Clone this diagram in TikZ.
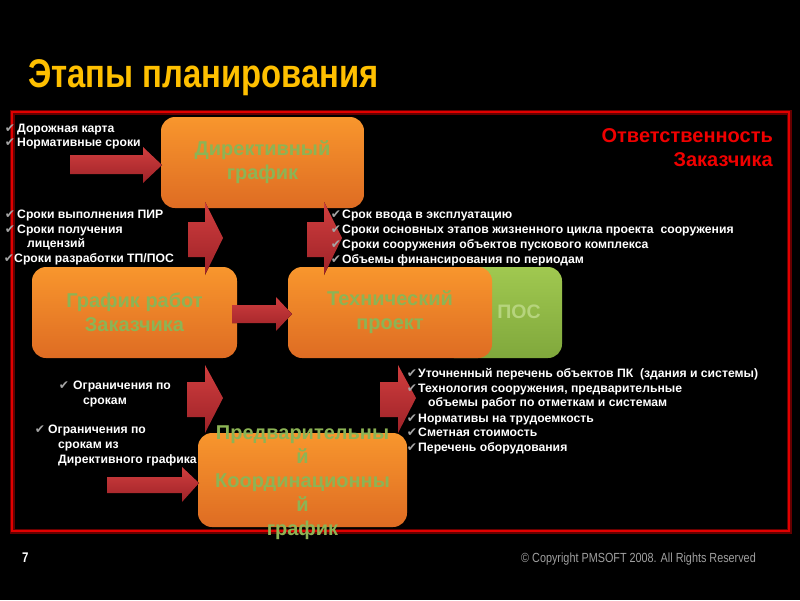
\documentclass[tikz,border=0pt]{standalone}
\usepackage{fontspec}
\setmainfont{Liberation Sans}
\newfontfamily\dejavu{DejaVu Sans}
\newfontfamily\narrowfont[FakeStretch=0.82]{Liberation Sans}
\definecolor{titlegold}{RGB}{255,192,0}
\definecolor{framered}{RGB}{225,0,0}
\definecolor{boxtop}{RGB}{248,150,45}
\definecolor{boxbot}{RGB}{222,108,35}
\definecolor{boxtext}{RGB}{140,180,85}
\definecolor{postop}{RGB}{160,200,80}
\definecolor{posbot}{RGB}{128,168,60}
\definecolor{postext}{RGB}{182,212,125}
\definecolor{arrowtop}{RGB}{208,62,62}
\definecolor{arrowbot}{RGB}{158,34,40}
\definecolor{ckgray}{RGB}{165,165,165}
\definecolor{respred}{RGB}{240,0,0}
\definecolor{copygray}{RGB}{160,160,160}
\newcommand\mychk{{\dejavu\color{ckgray}✔}}
\begin{document}
\begin{tikzpicture}[x=1pt,y=-1pt,
  stagebox/.style={rounded corners=14pt, top color=boxtop, bottom color=boxbot,
    inner sep=0pt, text=boxtext, align=center,
    font=\bfseries\fontsize{20}{24}\selectfont},
  posbox/.style={rounded corners=14pt, top color=postop, bottom color=posbot, inner sep=0pt},
  arrowfill/.style={top color=arrowtop, bottom color=arrowbot},
  listtext/.style={anchor=base west, inner sep=0pt, text=white,
    font=\bfseries\fontsize{12.2}{14}\selectfont},
]
\useasboundingbox (0,0) rectangle (800,600);
\fill[black] (0,0) rectangle (800,600);

% title
\node[anchor=base west, inner sep=0pt, text=titlegold,
  font=\narrowfont\bfseries\fontsize{40}{44}\selectfont] (title) at (28,87) {Этапы планирования};

% frame
\draw[framered!45!black, line width=5pt] (12,112) rectangle (789,531);
\draw[framered, line width=2.2pt] (12,112) rectangle (789,531);

% boxes
\node[posbox, minimum width=122, minimum height=91] (pos) at (501,312.5) {};
\node[anchor=base, inner sep=0pt, text=postext, font=\bfseries\fontsize{19.5}{24}\selectfont] (postxt) at (519,318) {ПОС};
\node[stagebox, minimum width=203, minimum height=91] (dir) at (262.5,162.5) {Директивный\\график};
\node[stagebox, minimum width=205, minimum height=91] (grw) at (134.5,312.5) {График работ\\Заказчика};
\node[stagebox, minimum width=204, minimum height=91] (tech) at (390,312.5) {Технический\\проект};
\node[stagebox, minimum width=209, minimum height=94] (pred) at (302.5,480) {};

% block arrows
\fill[arrowfill] (70,155) -- (143,155) -- (143,147) -- (162,165) -- (143,183) -- (143,174) -- (70,174) -- cycle;
\fill[arrowfill] (188,222) -- (205,222) -- (205,202) -- (223,238) -- (205,275) -- (205,257) -- (188,257) -- cycle;
\fill[arrowfill] (307,222) -- (324,222) -- (324,202) -- (342,238) -- (324,275) -- (324,257) -- (307,257) -- cycle;
\fill[arrowfill] (232,305) -- (276,305) -- (276,297) -- (292,314) -- (276,331) -- (276,323) -- (232,323) -- cycle;
\fill[arrowfill] (187,382) -- (205,382) -- (205,365) -- (223,398) -- (205,433) -- (205,417) -- (187,417) -- cycle;
\fill[arrowfill] (380,382) -- (398,382) -- (398,365) -- (416,398) -- (398,433) -- (398,417) -- (380,417) -- cycle;
\fill[arrowfill] (107,477) -- (182,477) -- (182,467) -- (199,483) -- (182,502) -- (182,493) -- (107,493) -- cycle;

% text of the coordination box (overflows)
\node[inner sep=0pt, text=boxtext, align=center, font=\bfseries\fontsize{20}{24}\selectfont] (predtxt) at (302.5,483)
  {Предварительны\\й\\Координационны\\й\\график};

% responsibility
\node[anchor=base east, inner sep=0pt, text=respred,
  font=\bfseries\fontsize{20}{24}\selectfont] (resp1) at (773,142) {Ответственность};
\node[anchor=base east, inner sep=0pt, text=respred,
  font=\bfseries\fontsize{20}{24}\selectfont] (resp2) at (773,166) {Заказчика};

% lists, top left
\node[listtext] (a1) at (17,132) {\llap{\mychk\hspace{2pt}}Дорожная карта};
\node[listtext] (a2) at (17,146) {\llap{\mychk\hspace{2pt}}Нормативные сроки};
\node[listtext] (b1) at (17,218) {\llap{\mychk\hspace{2pt}}Сроки выполнения ПИР};
\node[listtext] (b2) at (17,233) {\llap{\mychk\hspace{2pt}}Сроки получения};
\node[listtext] (b3) at (27,247) {лицензий};
\node[listtext] (b4) at (14,262) {\llap{\mychk}Сроки разработки ТП/ПОС};

% list, top right
\node[listtext] (c1) at (342,218) {\llap{\mychk\hspace{1pt}}Срок ввода в эксплуатацию};
\node[listtext] (c2) at (342,233) {\llap{\mychk\hspace{1pt}}Сроки основных этапов жизненного цикла проекта\ \ сооружения};
\node[listtext] (c3) at (342,248) {\llap{\mychk\hspace{1pt}}Сроки сооружения объектов пускового комплекса};
\node[listtext] (c4) at (342,263) {\llap{\mychk\hspace{1pt}}Объемы финансирования по периодам};

% lower left
\node[listtext] (d1) at (73,389) {\llap{\mychk\hspace{4pt}}Ограничения по};
\node[listtext] (d2) at (83,404) {срокам};
\node[listtext] (e1) at (48,433) {\llap{\mychk\hspace{3pt}}Ограничения по};
\node[listtext] (e2) at (58,448) {срокам из};
\node[listtext] (e3) at (58,463) {Директивного графика};

% lower right
\node[listtext] (f1) at (418,377) {\llap{\mychk\hspace{1pt}}Уточненный перечень объектов ПК\ \ (здания и системы)};
\node[listtext] (f2) at (418,392) {\llap{\mychk\hspace{1pt}}Технология сооружения, предварительные};
\node[listtext] (f3) at (428,406) {объемы работ по отметкам и системам};
\node[listtext] (f4) at (418,422) {\llap{\mychk\hspace{1pt}}Нормативы на трудоемкость};
\node[listtext] (f5) at (418,436) {\llap{\mychk\hspace{1pt}}Сметная стоимость};
\node[listtext] (f6) at (418,451) {\llap{\mychk\hspace{1pt}}Перечень оборудования};

% footer
\node[anchor=base west, inner sep=0pt, text=white, font=\narrowfont\bfseries\fontsize{14}{16}\selectfont] (pnum) at (22,562) {7};
\node[anchor=base east, inner sep=0pt, text=copygray, font=\narrowfont\fontsize{13.2}{15}\selectfont] (copy) at (756,562) {© Copyright PMSOFT 2008. All Rights Reserved};
\end{tikzpicture}
\end{document}
